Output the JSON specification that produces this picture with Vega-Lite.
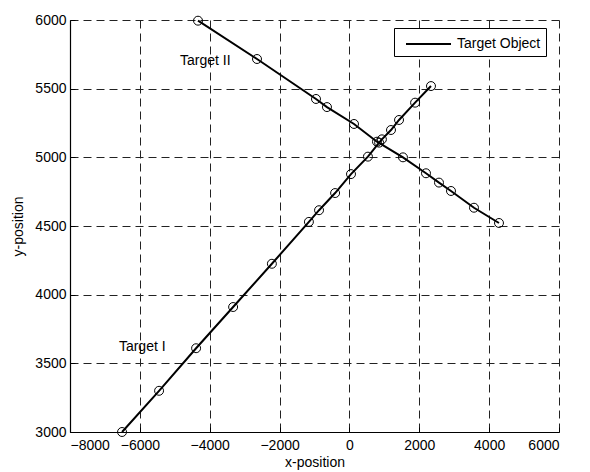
{
  "$schema": "https://vega.github.io/schema/vega-lite/v6.json",
  "autosize": "none",
  "width": 489,
  "height": 412,
  "padding": {"left": 70, "top": 20, "right": 31, "bottom": 40},
  "background": "white",
  "config": {
    "font": "Liberation Sans",
    "view": {"stroke": null},
    "axis": {
      "labelFont": "Liberation Sans",
      "titleFont": "Liberation Sans",
      "labelFontSize": 14,
      "titleFontSize": 14,
      "titleFontWeight": "normal",
      "labelColor": "black",
      "titleColor": "black",
      "domainColor": "black",
      "domainWidth": 1.2,
      "grid": true,
      "gridColor": "#222222",
      "gridDash": [8, 5],
      "gridWidth": 1,
      "ticks": true,
      "tickSize": -5,
      "tickColor": "black",
      "format": "d"
    }
  },
  "datasets": {
    "tracks": [
      {"target": "Target I", "legend": "Target Object", "x": -6510, "y": 3000},
      {"target": "Target I", "legend": "Target Object", "x": -5450, "y": 3300},
      {"target": "Target I", "legend": "Target Object", "x": -4390, "y": 3610},
      {"target": "Target I", "legend": "Target Object", "x": -3330, "y": 3910},
      {"target": "Target I", "legend": "Target Object", "x": -2220, "y": 4225},
      {"target": "Target I", "legend": "Target Object", "x": -1160, "y": 4530},
      {"target": "Target I", "legend": "Target Object", "x": -870, "y": 4615},
      {"target": "Target I", "legend": "Target Object", "x": -410, "y": 4740},
      {"target": "Target I", "legend": "Target Object", "x": 45, "y": 4878},
      {"target": "Target I", "legend": "Target Object", "x": 530, "y": 5005},
      {"target": "Target I", "legend": "Target Object", "x": 850, "y": 5107},
      {"target": "Target I", "legend": "Target Object", "x": 930, "y": 5131},
      {"target": "Target I", "legend": "Target Object", "x": 1190, "y": 5199},
      {"target": "Target I", "legend": "Target Object", "x": 1420, "y": 5272},
      {"target": "Target I", "legend": "Target Object", "x": 1880, "y": 5398},
      {"target": "Target I", "legend": "Target Object", "x": 2335, "y": 5519},
      {"target": "Target II", "legend": "Target Object", "x": -4335, "y": 5995},
      {"target": "Target II", "legend": "Target Object", "x": -2646, "y": 5716},
      {"target": "Target II", "legend": "Target Object", "x": -957, "y": 5425},
      {"target": "Target II", "legend": "Target Object", "x": -643, "y": 5366},
      {"target": "Target II", "legend": "Target Object", "x": 131, "y": 5243},
      {"target": "Target II", "legend": "Target Object", "x": 789, "y": 5114},
      {"target": "Target II", "legend": "Target Object", "x": 1533, "y": 5000},
      {"target": "Target II", "legend": "Target Object", "x": 2192, "y": 4884},
      {"target": "Target II", "legend": "Target Object", "x": 2564, "y": 4816},
      {"target": "Target II", "legend": "Target Object", "x": 2908, "y": 4755},
      {"target": "Target II", "legend": "Target Object", "x": 3566, "y": 4633},
      {"target": "Target II", "legend": "Target Object", "x": 4282, "y": 4522}
    ],
    "labels": [
      {"label": "Target II", "x": -4851, "y": 5700},
      {"label": "Target I", "x": -6600, "y": 3619}
    ]
  },
  "layer": [
    {
      "data": {"name": "tracks"},
      "mark": {"type": "line", "strokeWidth": 2},
      "encoding": {
        "x": {"field": "x", "type": "quantitative", "title": "x-position",
              "scale": {"domain": [-8000, 6000], "nice": false},
              "axis": {"values": [-8000, -6000, -4000, -2000, 0, 2000, 4000, 6000], "labelPadding": 11, "titlePadding": 3}},
        "y": {"field": "y", "type": "quantitative", "title": "y-position",
              "scale": {"domain": [3000, 6000], "nice": false, "zero": false},
              "axis": {"values": [3000, 3500, 4000, 4500, 5000, 5500, 6000], "labelPadding": 9, "titlePadding": 9}},
        "detail": {"field": "target"},
        "color": {"field": "legend", "type": "nominal", "scale": {"range": ["black"]},
                  "legend": {"title": null, "orient": "none", "legendX": 324, "legendY": 8,
                             "symbolType": "M-0.4,0H4.1", "symbolSize": 400, "symbolStrokeWidth": 2,
                             "labelFontSize": 14, "labelFont": "Liberation Sans", "labelColor": "black",
                             "labelOffset": 36,
                             "strokeColor": "black", "fillColor": "white", "padding": 5, "cornerRadius": 0}}
      }
    },
    {
      "data": {"name": "tracks"},
      "mark": {"type": "point", "shape": "circle", "filled": false, "color": "black", "size": 80, "strokeWidth": 1, "opacity": 1},
      "encoding": {
        "x": {"field": "x", "type": "quantitative"},
        "y": {"field": "y", "type": "quantitative"}
      }
    },
    {
      "data": {"name": "labels"},
      "mark": {"type": "text", "align": "left", "baseline": "middle", "fontSize": 14, "font": "Liberation Sans", "color": "black"},
      "encoding": {
        "x": {"field": "x", "type": "quantitative"},
        "y": {"field": "y", "type": "quantitative"},
        "text": {"field": "label"}
      }
    }
  ]
}
